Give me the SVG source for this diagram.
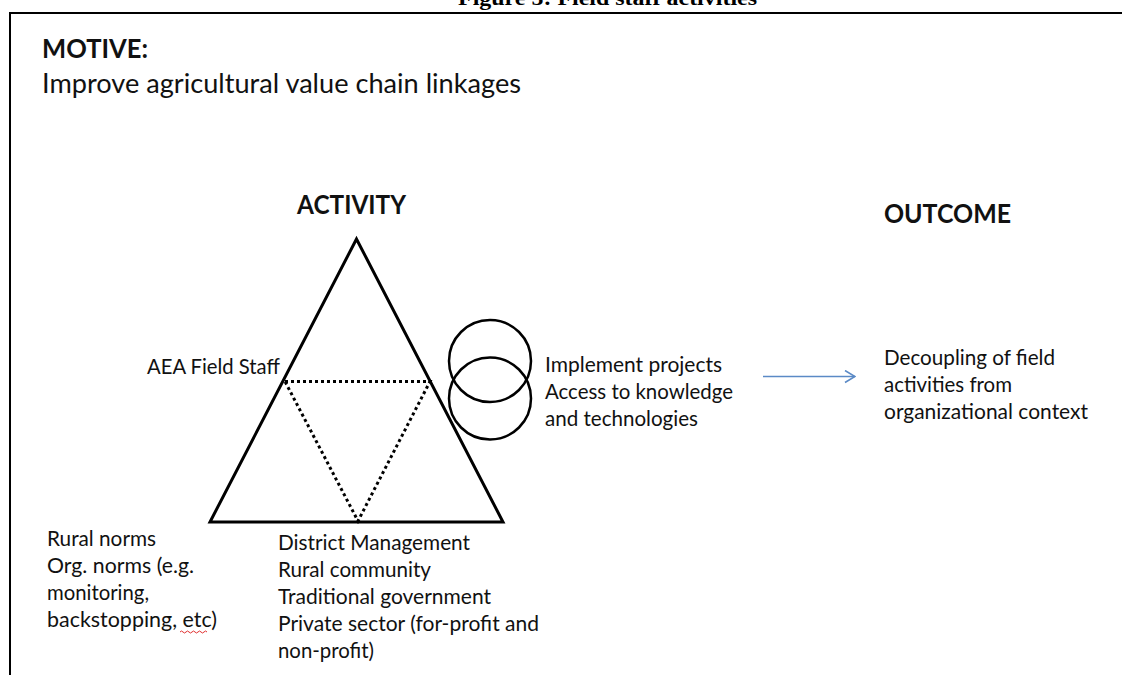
<svg xmlns="http://www.w3.org/2000/svg" width="1122" height="675" viewBox="0 0 1122 675">
<defs>
<style>
.t{font-family:Lato,"Open Sans","Liberation Sans",sans-serif;font-size:22px;fill:#111}
.h{font-family:Lato,"Open Sans","Liberation Sans",sans-serif;font-size:26px;font-weight:bold;fill:#111}
.big{font-family:Lato,"Open Sans","Liberation Sans",sans-serif;font-size:26px;fill:#111}
.ttl{font-family:"Liberation Serif","Times New Roman",serif;font-size:22px;font-weight:bold;fill:#000}
.solid{fill:none;stroke:#000;stroke-width:3;stroke-linejoin:miter}
.dots{fill:none;stroke:#000;stroke-width:3;stroke-dasharray:3 3}
.ring{fill:none;stroke:#000;stroke-width:2.5}
.conn{fill:none;stroke:#5b8ac6;stroke-width:1.6}
</style>
<marker id="open" viewBox="0 0 12 14" refX="11" refY="7" markerWidth="12" markerHeight="14" markerUnits="userSpaceOnUse" orient="auto">
<path d="M1,1 L11,7 L1,13" fill="none" stroke="#5b8ac6" stroke-width="1.6"/>
</marker>
</defs>
<rect width="1122" height="675" fill="#fff"/>
<g id="title">
<text class="ttl" x="458" y="5" textLength="299" lengthAdjust="spacingAndGlyphs">Figure 5: Field staff activities</text>
</g>
<g id="frame">
<path d="M10,676 V13 H1122" fill="none" stroke="#000" stroke-width="2"/>
</g>
<g id="motive">
<text class="h" x="42" y="58" textLength="106" lengthAdjust="spacingAndGlyphs">MOTIVE:</text>
<text class="big" x="42" y="93" textLength="479" lengthAdjust="spacingAndGlyphs">Improve agricultural value chain linkages</text>
</g>
<g id="activity">
<text class="h" x="297" y="214" textLength="109" lengthAdjust="spacingAndGlyphs">ACTIVITY</text>
<polygon class="solid" points="356.5,239 210,522 503,522"/>
<polygon class="dots" points="285,381.5 430,381.5 358,521"/>
</g>
<g id="subject">
<text class="t" x="147" y="374" textLength="133" lengthAdjust="spacingAndGlyphs">AEA Field  Staff</text>
</g>
<g id="tools">
<circle class="ring" cx="490" cy="361" r="41"/>
<circle class="ring" cx="490" cy="398.5" r="41"/>
<text class="t" x="545" y="372" textLength="177" lengthAdjust="spacingAndGlyphs">Implement projects</text>
<text class="t" x="545" y="399" textLength="188" lengthAdjust="spacingAndGlyphs">Access to knowledge</text>
<text class="t" x="545" y="426" textLength="153" lengthAdjust="spacingAndGlyphs">and technologies</text>
</g>
<g id="outcome">
<text class="h" x="884" y="223" textLength="127" lengthAdjust="spacingAndGlyphs">OUTCOME</text>
<text class="t" x="884" y="365" textLength="171" lengthAdjust="spacingAndGlyphs">Decoupling  of field</text>
<text class="t" x="884" y="392" textLength="128" lengthAdjust="spacingAndGlyphs">activities from</text>
<text class="t" x="884" y="419" textLength="204" lengthAdjust="spacingAndGlyphs">organizational context</text>
</g>
<g id="rules">
<text class="t" x="47" y="546" textLength="109" lengthAdjust="spacingAndGlyphs">Rural norms</text>
<text class="t" x="47" y="573" textLength="147" lengthAdjust="spacingAndGlyphs">Org. norms (e.g.</text>
<text class="t" x="47" y="600" textLength="102" lengthAdjust="spacingAndGlyphs">monitoring,</text>
<text class="t" x="47" y="627" textLength="170" lengthAdjust="spacingAndGlyphs">backstopping,  etc)</text>
<path d="M180,632 q1.5,-2 3,0 t3,0 t3,0 t3,0 t3,0 t3,0 t3,0 t3,0 t3,0" fill="none" stroke="#e03030" stroke-width="1"/>
</g>
<g id="community">
<text class="t" x="278" y="550" textLength="192" lengthAdjust="spacingAndGlyphs">District Management</text>
<text class="t" x="278" y="577" textLength="153" lengthAdjust="spacingAndGlyphs">Rural community</text>
<text class="t" x="278" y="604" textLength="213" lengthAdjust="spacingAndGlyphs">Traditional  government</text>
<text class="t" x="278" y="631" textLength="261" lengthAdjust="spacingAndGlyphs">Private sector (for-profit  and</text>
<text class="t" x="278" y="658" textLength="96" lengthAdjust="spacingAndGlyphs">non-profit)</text>
</g>
<g id="connectors">
<line class="conn" x1="763" y1="376.5" x2="855" y2="376.5" marker-end="url(#open)"/>
</g>
</svg>
